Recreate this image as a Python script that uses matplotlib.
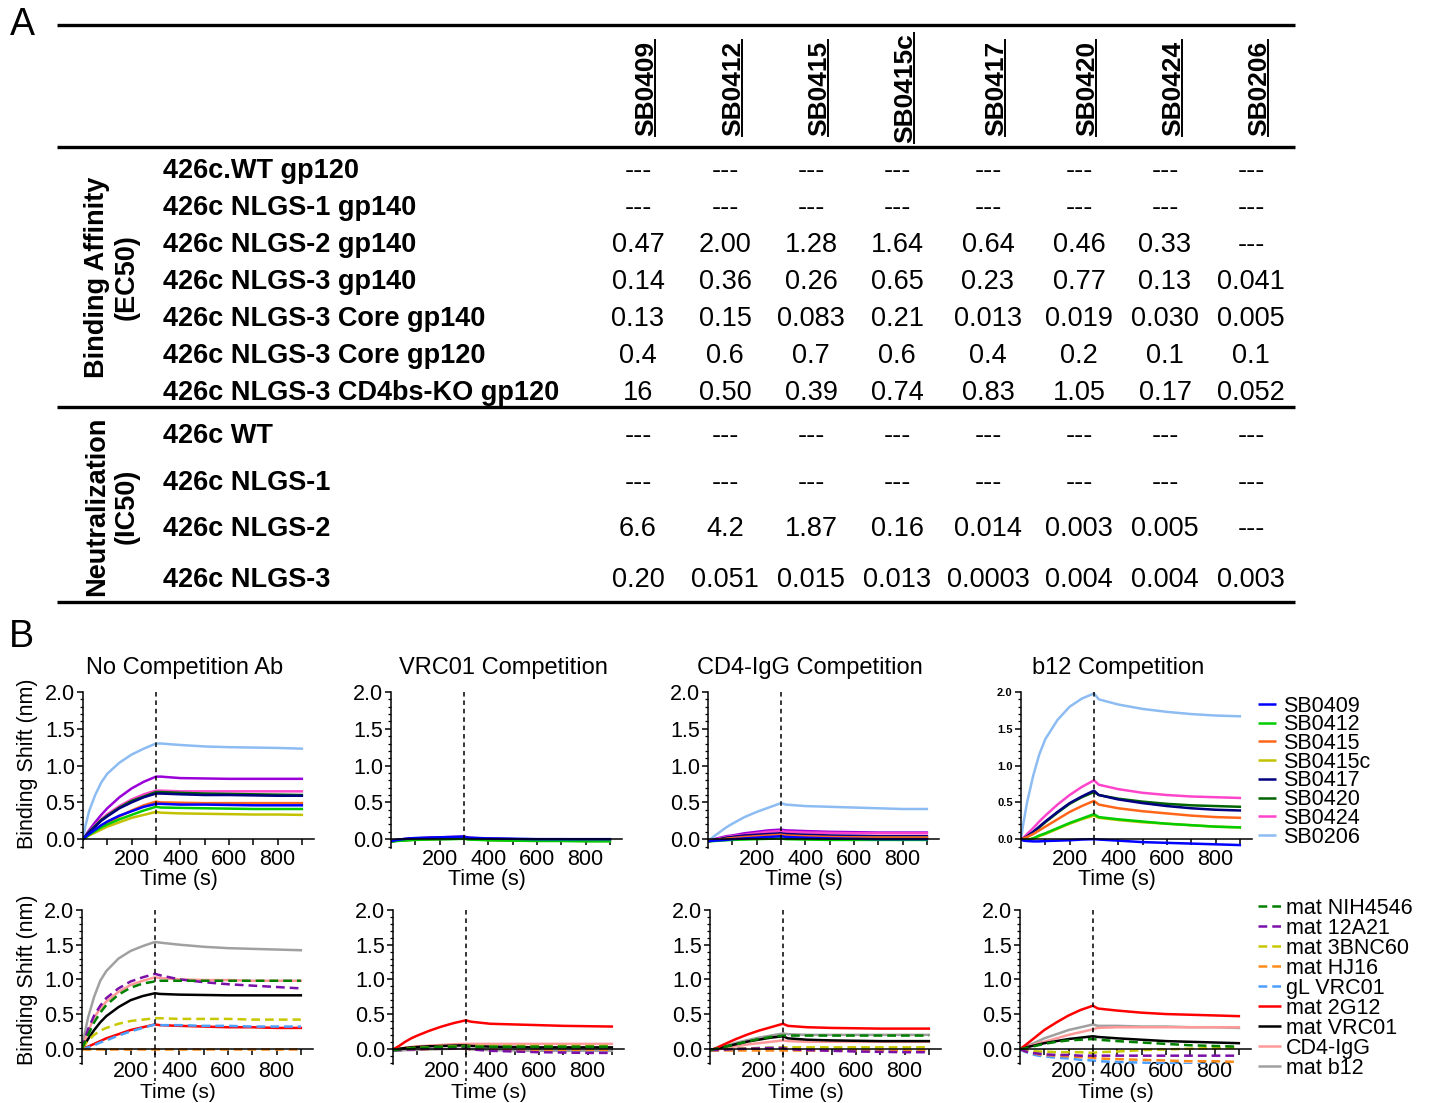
import matplotlib
matplotlib.use('Agg')
import matplotlib.pyplot as plt
from matplotlib.ticker import FixedLocator, MultipleLocator, FormatStrFormatter

plt.rcParams['font.family'] = 'Liberation Sans'

W, H = 1431, 1103

# ---------------- panel A: EC50 / IC50 table ----------------
mabs = ['SB0409', 'SB0412', 'SB0415', 'SB0415c', 'SB0417', 'SB0420', 'SB0424', 'SB0206']

binding_rows = ['426c.WT gp120', '426c NLGS-1 gp140', '426c NLGS-2 gp140', '426c NLGS-3 gp140',
                '426c NLGS-3 Core gp140', '426c NLGS-3 Core gp120', '426c NLGS-3 CD4bs-KO gp120']
binding_vals = [
    ['---', '---', '---', '---', '---', '---', '---', '---'],
    ['---', '---', '---', '---', '---', '---', '---', '---'],
    ['0.47', '2.00', '1.28', '1.64', '0.64', '0.46', '0.33', '---'],
    ['0.14', '0.36', '0.26', '0.65', '0.23', '0.77', '0.13', '0.041'],
    ['0.13', '0.15', '0.083', '0.21', '0.013', '0.019', '0.030', '0.005'],
    ['0.4', '0.6', '0.7', '0.6', '0.4', '0.2', '0.1', '0.1'],
    ['16', '0.50', '0.39', '0.74', '0.83', '1.05', '0.17', '0.052'],
]

neut_rows = ['426c WT', '426c NLGS-1', '426c NLGS-2', '426c NLGS-3']
neut_vals = [
    ['---', '---', '---', '---', '---', '---', '---', '---'],
    ['---', '---', '---', '---', '---', '---', '---', '---'],
    ['6.6', '4.2', '1.87', '0.16', '0.014', '0.003', '0.005', '---'],
    ['0.20', '0.051', '0.015', '0.013', '0.0003', '0.004', '0.004', '0.003'],
]

# ---------------- panel B: BLI sensorgrams ----------------
t = [0, 10, 25, 50, 75, 100, 150, 200, 250, 300, 320, 400, 500, 600, 700, 800, 900]

sb_colors = {'SB0409': '#0000ff', 'SB0412': '#00cc00', 'SB0415': '#ff6619', 'SB0415c': '#c2c200',
             'SB0417': '#000080', 'SB0420': '#006400', 'SB0424': '#ff44cc', 'SB0206': '#8cbcf2'}
extra_color = '#9b00d9'

sb_no_comp = {
    'SB0409': [0, 0.03, 0.07, 0.13, 0.19, 0.24, 0.32, 0.38, 0.44, 0.48, 0.48, 0.47, 0.47, 0.465, 0.46, 0.46, 0.46],
    'SB0412': [0, 0.02, 0.06, 0.11, 0.16, 0.20, 0.27, 0.33, 0.39, 0.44, 0.43, 0.425, 0.42, 0.415, 0.41, 0.41, 0.41],
    'SB0415': [0, 0.02, 0.06, 0.12, 0.17, 0.22, 0.31, 0.39, 0.46, 0.51, 0.50, 0.495, 0.49, 0.49, 0.49, 0.49, 0.49],
    'SB0415c': [0, 0.02, 0.05, 0.09, 0.13, 0.17, 0.23, 0.29, 0.33, 0.37, 0.36, 0.35, 0.345, 0.34, 0.335, 0.335, 0.33],
    'SB0417': [0, 0.04, 0.09, 0.17, 0.25, 0.31, 0.42, 0.50, 0.57, 0.62, 0.62, 0.61, 0.60, 0.60, 0.595, 0.59, 0.59],
    'SB0420': [0, 0.04, 0.10, 0.18, 0.26, 0.32, 0.43, 0.52, 0.58, 0.64, 0.64, 0.63, 0.62, 0.615, 0.61, 0.605, 0.60],
    'SB0424': [0, 0.04, 0.10, 0.19, 0.27, 0.34, 0.45, 0.54, 0.61, 0.66, 0.66, 0.65, 0.65, 0.65, 0.65, 0.65, 0.65],
    'SB0206': [0, 0.18, 0.38, 0.60, 0.77, 0.89, 1.04, 1.15, 1.23, 1.30, 1.30, 1.28, 1.26, 1.25, 1.245, 1.24, 1.23],
}
no_comp_extra = [0, 0.05, 0.12, 0.23, 0.33, 0.42, 0.57, 0.69, 0.78, 0.85, 0.85, 0.83, 0.825, 0.82, 0.82, 0.82, 0.82]

sb_vrc01_comp = {
    'SB0409': [-0.03, -0.02, -0.01, 0.0, 0.01, 0.015, 0.02, 0.025, 0.03, 0.035, 0.02, 0.01, 0.005, 0.0, 0.0, 0.0, 0.0],
    'SB0412': [-0.03, -0.03, -0.025, -0.02, -0.015, -0.01, -0.005, 0.0, 0.0, 0.005, -0.005, -0.015, -0.02, -0.025, -0.025, -0.03, -0.03],
    'SB0415': [-0.03, -0.02, -0.015, -0.01, -0.005, 0.0, 0.01, 0.015, 0.02, 0.025, 0.015, 0.0, -0.005, -0.01, -0.01, -0.01, -0.01],
    'SB0415c': [-0.03, -0.025, -0.02, -0.015, -0.01, -0.005, 0.0, 0.005, 0.01, 0.015, 0.005, -0.01, -0.015, -0.015, -0.02, -0.02, -0.02],
    'SB0417': [-0.03, -0.02, -0.01, 0.0, 0.005, 0.01, 0.015, 0.02, 0.025, 0.03, 0.015, 0.005, 0.0, -0.005, -0.005, -0.005, -0.005],
    'SB0420': [-0.03, -0.03, -0.02, -0.015, -0.01, -0.005, 0.0, 0.0, 0.005, 0.01, 0.0, -0.01, -0.015, -0.02, -0.02, -0.02, -0.02],
    'SB0424': [-0.03, -0.02, -0.01, 0.0, 0.005, 0.01, 0.02, 0.025, 0.03, 0.035, 0.02, 0.005, 0.0, -0.005, -0.005, -0.005, -0.005],
    'SB0206': [-0.03, -0.02, -0.01, 0.0, 0.01, 0.015, 0.02, 0.025, 0.03, 0.03, 0.02, 0.01, 0.005, 0.0, 0.0, -0.005, -0.005],
}

sb_cd4_comp = {
    'SB0409': [-0.03, -0.025, -0.02, -0.015, -0.01, 0.0, 0.01, 0.02, 0.03, 0.04, 0.03, 0.02, 0.01, 0.005, 0.0, 0.0, 0.0],
    'SB0412': [-0.03, -0.03, -0.025, -0.02, -0.015, -0.01, -0.005, 0.0, 0.005, 0.01, 0.0, -0.005, -0.01, -0.01, -0.01, -0.01, -0.01],
    'SB0415': [-0.03, -0.02, -0.015, -0.005, 0.005, 0.015, 0.03, 0.04, 0.05, 0.06, 0.05, 0.04, 0.03, 0.025, 0.02, 0.02, 0.02],
    'SB0415c': [-0.03, -0.02, -0.015, -0.005, 0.0, 0.01, 0.02, 0.03, 0.04, 0.05, 0.04, 0.03, 0.025, 0.02, 0.02, 0.02, 0.02],
    'SB0417': [-0.03, -0.02, -0.01, 0.0, 0.02, 0.03, 0.05, 0.06, 0.07, 0.08, 0.07, 0.06, 0.05, 0.045, 0.04, 0.04, 0.04],
    'SB0420': [-0.03, -0.02, -0.01, 0.0, 0.01, 0.02, 0.04, 0.05, 0.06, 0.07, 0.06, 0.05, 0.04, 0.035, 0.03, 0.03, 0.03],
    'SB0424': [-0.03, -0.02, -0.01, 0.01, 0.03, 0.04, 0.06, 0.08, 0.10, 0.11, 0.10, 0.09, 0.085, 0.08, 0.08, 0.08, 0.08],
    'SB0206': [-0.03, 0.0, 0.04, 0.10, 0.16, 0.21, 0.30, 0.37, 0.43, 0.49, 0.47, 0.45, 0.44, 0.43, 0.42, 0.41, 0.41],
}
cd4_comp_extra = [-0.03, -0.02, 0.0, 0.02, 0.04, 0.05, 0.08, 0.10, 0.12, 0.13, 0.12, 0.11, 0.10, 0.095, 0.09, 0.09, 0.09]

sb_b12_comp = {
    'SB0409': [0.0, -0.02, -0.025, -0.03, -0.03, -0.025, -0.02, -0.015, -0.005, 0.0, -0.005, -0.02, -0.04, -0.05, -0.06, -0.07, -0.08],
    'SB0412': [0.0, -0.01, -0.01, 0.01, 0.05, 0.08, 0.15, 0.22, 0.28, 0.34, 0.30, 0.27, 0.24, 0.21, 0.19, 0.17, 0.16],
    'SB0415': [0.0, 0.01, 0.03, 0.07, 0.12, 0.17, 0.27, 0.37, 0.45, 0.52, 0.47, 0.42, 0.38, 0.35, 0.32, 0.30, 0.29],
    'SB0415c': [0.0, -0.01, -0.01, 0.01, 0.04, 0.07, 0.14, 0.21, 0.27, 0.32, 0.29, 0.26, 0.23, 0.21, 0.19, 0.17, 0.16],
    'SB0417': [0.0, 0.01, 0.04, 0.10, 0.17, 0.24, 0.37, 0.49, 0.58, 0.66, 0.60, 0.54, 0.49, 0.45, 0.42, 0.40, 0.39],
    'SB0420': [0.0, 0.01, 0.03, 0.09, 0.16, 0.23, 0.36, 0.48, 0.57, 0.64, 0.60, 0.55, 0.51, 0.48, 0.46, 0.45, 0.44],
    'SB0424': [0.0, 0.02, 0.07, 0.15, 0.24, 0.32, 0.47, 0.60, 0.71, 0.80, 0.74, 0.68, 0.63, 0.60, 0.58, 0.57, 0.56],
    'SB0206': [0.0, 0.22, 0.50, 0.86, 1.15, 1.36, 1.62, 1.80, 1.91, 1.98, 1.90, 1.83, 1.77, 1.73, 1.70, 1.68, 1.67],
}

ref_names = ['mat NIH4546', 'mat 12A21', 'mat 3BNC60', 'mat HJ16', 'gL VRC01',
             'mat 2G12', 'mat VRC01', 'CD4-IgG', 'mat b12']
ref_colors = ['#008000', '#7a10a8', '#c8c800', '#ff8c1a', '#4d9fff',
              '#ff0000', '#000000', '#ff9999', '#a0a0a0']
ref_dashed = [True, True, True, True, True, False, False, False, False]

ref_no_comp = {
    'mat NIH4546': [0, 0.08, 0.20, 0.38, 0.52, 0.63, 0.78, 0.88, 0.94, 0.97, 0.98, 0.98, 0.98, 0.98, 0.98, 0.98, 0.98],
    'mat 12A21': [0, 0.12, 0.28, 0.48, 0.62, 0.73, 0.87, 0.97, 1.03, 1.08, 1.06, 1.00, 0.96, 0.93, 0.91, 0.89, 0.87],
    'mat 3BNC60': [0, 0.05, 0.12, 0.20, 0.26, 0.30, 0.36, 0.40, 0.42, 0.44, 0.44, 0.43, 0.43, 0.43, 0.42, 0.42, 0.42],
    'mat HJ16': [-0.01, -0.01, -0.01, -0.01, -0.01, -0.01, -0.01, -0.01, -0.01, -0.01, -0.01, -0.01, -0.01, -0.01, -0.01, -0.01, -0.01],
    'gL VRC01': [0, 0.0, 0.02, 0.05, 0.09, 0.12, 0.19, 0.25, 0.30, 0.35, 0.34, 0.34, 0.33, 0.33, 0.32, 0.32, 0.32],
    'mat 2G12': [0, 0.01, 0.03, 0.07, 0.11, 0.15, 0.21, 0.27, 0.31, 0.35, 0.34, 0.33, 0.32, 0.31, 0.31, 0.30, 0.30],
    'mat VRC01': [0, 0.05, 0.14, 0.27, 0.38, 0.47, 0.60, 0.70, 0.76, 0.80, 0.79, 0.78, 0.775, 0.77, 0.77, 0.77, 0.77],
    'CD4-IgG': [0, 0.10, 0.25, 0.45, 0.58, 0.68, 0.82, 0.92, 0.98, 1.03, 1.02, 1.00, 0.99, 0.99, 0.98, 0.98, 0.98],
    'mat b12': [0, 0.20, 0.45, 0.75, 0.98, 1.12, 1.30, 1.41, 1.48, 1.54, 1.53, 1.50, 1.47, 1.45, 1.44, 1.43, 1.42],
}

ref_vrc01_comp = {
    'mat NIH4546': [-0.02, -0.02, -0.01, 0.0, 0.005, 0.01, 0.02, 0.025, 0.03, 0.035, 0.03, 0.03, 0.03, 0.03, 0.03, 0.03, 0.03],
    'mat 12A21': [-0.02, -0.02, -0.02, -0.015, -0.01, -0.01, 0.0, 0.0, 0.005, 0.01, -0.01, -0.03, -0.04, -0.05, -0.055, -0.06, -0.06],
    'mat 3BNC60': [-0.02, -0.015, -0.01, 0.0, 0.01, 0.015, 0.02, 0.03, 0.035, 0.04, 0.04, 0.04, 0.04, 0.04, 0.04, 0.04, 0.04],
    'mat HJ16': [-0.02, -0.02, -0.02, -0.015, -0.01, -0.01, -0.005, 0.0, 0.0, 0.0, -0.01, -0.015, -0.02, -0.02, -0.02, -0.02, -0.02],
    'gL VRC01': [-0.03, -0.025, -0.02, -0.015, -0.01, -0.005, 0.0, 0.005, 0.005, 0.01, -0.005, -0.02, -0.025, -0.03, -0.03, -0.03, -0.03],
    'mat 2G12': [-0.01, 0.01, 0.04, 0.10, 0.15, 0.19, 0.26, 0.32, 0.37, 0.41, 0.39, 0.36, 0.35, 0.34, 0.33, 0.325, 0.32],
    'mat VRC01': [-0.02, -0.01, 0.0, 0.01, 0.02, 0.025, 0.035, 0.04, 0.045, 0.05, 0.04, 0.03, 0.025, 0.02, 0.02, 0.02, 0.02],
    'CD4-IgG': [-0.02, -0.01, 0.0, 0.015, 0.025, 0.035, 0.045, 0.055, 0.065, 0.07, 0.07, 0.07, 0.07, 0.07, 0.07, 0.07, 0.07],
    'mat b12': [-0.03, -0.03, -0.025, -0.02, -0.02, -0.015, -0.01, -0.005, 0.0, 0.0, -0.01, -0.02, -0.025, -0.03, -0.03, -0.03, -0.03],
}

ref_cd4_comp = {
    'mat NIH4546': [-0.02, -0.01, 0.0, 0.02, 0.04, 0.06, 0.10, 0.14, 0.17, 0.19, 0.19, 0.19, 0.19, 0.19, 0.19, 0.19, 0.19],
    'mat 12A21': [-0.02, -0.02, -0.02, -0.015, -0.01, -0.005, 0.0, 0.005, 0.01, 0.01, -0.005, -0.02, -0.03, -0.04, -0.045, -0.05, -0.05],
    'mat 3BNC60': [-0.02, -0.02, -0.015, -0.01, -0.005, 0.0, 0.005, 0.01, 0.015, 0.02, 0.02, 0.02, 0.02, 0.02, 0.02, 0.02, 0.02],
    'mat HJ16': [-0.02, -0.02, -0.02, -0.02, -0.02, -0.02, -0.02, -0.02, -0.02, -0.02, -0.02, -0.02, -0.02, -0.02, -0.02, -0.02, -0.02],
    'gL VRC01': [-0.03, -0.02, -0.015, -0.01, -0.005, 0.0, 0.005, 0.01, 0.015, 0.015, 0.0, -0.01, -0.02, -0.03, -0.035, -0.04, -0.04],
    'mat 2G12': [-0.02, -0.01, 0.01, 0.05, 0.09, 0.13, 0.20, 0.26, 0.31, 0.36, 0.33, 0.31, 0.30, 0.295, 0.29, 0.29, 0.29],
    'mat VRC01': [-0.02, -0.01, 0.0, 0.02, 0.04, 0.06, 0.10, 0.13, 0.16, 0.18, 0.15, 0.13, 0.12, 0.115, 0.11, 0.11, 0.11],
    'CD4-IgG': [-0.02, -0.015, -0.01, 0.0, 0.02, 0.03, 0.06, 0.08, 0.10, 0.12, 0.11, 0.10, 0.10, 0.10, 0.10, 0.10, 0.10],
    'mat b12': [-0.02, -0.01, 0.0, 0.03, 0.05, 0.08, 0.12, 0.16, 0.19, 0.22, 0.21, 0.20, 0.20, 0.20, 0.20, 0.20, 0.20],
}

ref_b12_comp = {
    'mat NIH4546': [0.0, 0.0, 0.01, 0.03, 0.05, 0.07, 0.10, 0.12, 0.13, 0.14, 0.13, 0.11, 0.09, 0.07, 0.05, 0.04, 0.03],
    'mat 12A21': [0.0, -0.02, -0.04, -0.06, -0.07, -0.08, -0.09, -0.09, -0.10, -0.10, -0.10, -0.10, -0.10, -0.10, -0.10, -0.10, -0.10],
    'mat 3BNC60': [0.0, -0.01, -0.02, -0.03, -0.04, -0.04, -0.05, -0.05, -0.05, -0.06, -0.05, -0.04, -0.02, -0.01, 0.0, 0.01, 0.02],
    'mat HJ16': [0.0, -0.02, -0.04, -0.06, -0.08, -0.09, -0.10, -0.11, -0.12, -0.13, -0.14, -0.15, -0.16, -0.17, -0.18, -0.18, -0.19],
    'gL VRC01': [-0.01, -0.03, -0.05, -0.08, -0.10, -0.11, -0.13, -0.14, -0.16, -0.17, -0.18, -0.19, -0.20, -0.21, -0.22, -0.23, -0.24],
    'mat 2G12': [0.0, 0.02, 0.06, 0.13, 0.20, 0.27, 0.38, 0.48, 0.56, 0.62, 0.58, 0.55, 0.52, 0.50, 0.49, 0.48, 0.47],
    'mat VRC01': [0.0, 0.01, 0.02, 0.04, 0.06, 0.08, 0.11, 0.14, 0.16, 0.18, 0.17, 0.15, 0.13, 0.11, 0.10, 0.09, 0.08],
    'CD4-IgG': [0.0, 0.01, 0.02, 0.05, 0.08, 0.10, 0.15, 0.20, 0.24, 0.28, 0.30, 0.31, 0.31, 0.31, 0.31, 0.31, 0.31],
    'mat b12': [0.0, 0.01, 0.03, 0.07, 0.11, 0.15, 0.21, 0.27, 0.31, 0.35, 0.33, 0.33, 0.32, 0.32, 0.31, 0.31, 0.30],
}

titles = ['No Competition Ab', 'VRC01 Competition', 'CD4-IgG Competition', 'b12 Competition']
top_data = [sb_no_comp, sb_vrc01_comp, sb_cd4_comp, sb_b12_comp]
top_extra = [no_comp_extra, None, cd4_comp_extra, None]
bottom_data = [ref_no_comp, ref_vrc01_comp, ref_cd4_comp, ref_b12_comp]

# ---------------- figure ----------------
fig = plt.figure(figsize=(W / 100, H / 100), dpi=100)

# full-figure pixel canvas for the table, labels and legends
bg = fig.add_axes([0, 0, 1, 1])
bg.set_xlim(0, W)
bg.set_ylim(H, 0)
bg.axis('off')

bg.text(22, 35, 'A', fontsize=27, ha='center', va='baseline')
bg.text(21, 647, 'B', fontsize=27, ha='center', va='baseline')

for y in [25, 147, 407, 602]:
    bg.plot([57, 1295], [y, y], color='k', lw=2.4, solid_capstyle='butt')

col_x = [638, 725, 811, 897, 988, 1079, 1165, 1251]
headers = []
for x, name in zip(col_x, mabs):
    ht = bg.text(x + 15, 88, name, rotation=90, rotation_mode='anchor', ha='center',
                 va='baseline', fontsize=19, fontweight='bold')
    headers.append((x + 15, ht))

bind_base = [178, 215, 252, 289, 326, 363, 400]
for yb, label, vals in zip(bind_base, binding_rows, binding_vals):
    bg.text(163, yb, label, fontsize=19.5, fontweight='bold', ha='left', va='baseline')
    for x, v in zip(col_x, vals):
        bg.text(x, yb, v, fontsize=19.5, ha='center', va='baseline')

neut_base = [443, 490, 536, 587]
for yb, label, vals in zip(neut_base, neut_rows, neut_vals):
    bg.text(163, yb, label, fontsize=19.5, fontweight='bold', ha='left', va='baseline')
    for x, v in zip(col_x, vals):
        bg.text(x, yb, v, fontsize=19.5, ha='center', va='baseline')

bg.text(112, 277, 'Binding Affinity\n(EC50)', rotation=90, ha='center', va='center',
        multialignment='center', fontsize=19.5, fontweight='bold', linespacing=1.15)
bg.text(112, 506, 'Neutralization\n(IC50)', rotation=90, ha='center', va='center',
        multialignment='center', fontsize=19.5, fontweight='bold', linespacing=1.15)


def px_axes(left, top, width, height):
    return fig.add_axes([left / W, 1 - (top + height) / H, width / W, height / H])


def style_axes(ax, ylow, xpad, small_bold=False):
    ax.set_xlim(0, 950)
    ax.set_ylim(ylow, 2.0)
    ax.patch.set_alpha(0)
    for s in ['top', 'right']:
        ax.spines[s].set_visible(False)
    ax.spines['bottom'].set_position(('data', 0))
    ax.spines['left'].set_linewidth(1.1)
    ax.spines['bottom'].set_linewidth(1.1)
    ax.xaxis.set_major_locator(FixedLocator([200, 400, 600, 800]))
    ax.xaxis.set_minor_locator(FixedLocator([100, 300, 500, 700, 900]))
    ax.yaxis.set_major_locator(MultipleLocator(0.5))
    ax.yaxis.set_minor_locator(MultipleLocator(0.1))
    ax.yaxis.set_major_formatter(FormatStrFormatter('%.1f'))
    ax.tick_params(which='major', length=4, width=1.1, labelsize=15.5, direction='out')
    ax.tick_params(axis='y', which='minor', length=2.2, width=0.9)
    ax.tick_params(axis='x', which='minor', length=4, width=1.1)
    ax.tick_params(axis='x', pad=xpad)
    ax.tick_params(axis='y', pad=1.5)
    if small_bold:
        ax.set_yticks([0.0, 0.5, 1.0, 1.5, 2.0], labels=['0.0', '0.5', '1.0', '1.5', '2.0'],
                      fontsize=8, fontweight='bold')
        ax.tick_params(axis='y', pad=2)


top_lefts = [83, 391, 708, 1021]
bot_lefts = [82, 393, 710, 1020]
title_x = [185, 503, 810, 1118]
lw = 1.8

for i in range(4):
    ax = px_axes(top_lefts[i], 692, 231, 156)
    style_axes(ax, -0.12, 3, small_bold=(i == 3))
    if top_extra[i] is not None:
        ax.plot(t, top_extra[i], color=extra_color, lw=lw)
    for name in reversed(mabs):
        ax.plot(t, top_data[i][name], color=sb_colors[name], lw=lw)
    ax.plot([300, 300], [2.0, 0.0], color='k', lw=1.1, ls=(0, (3, 2.5)), clip_on=False)
    ax.text(0.415, -0.2, 'Time (s)', transform=ax.transAxes, ha='center', va='center', fontsize=15.5)
    bg.text(title_x[i], 674, titles[i], ha='center', va='baseline', fontsize=17)

    ax = px_axes(bot_lefts[i], 910, 231, 154)
    style_axes(ax, -0.22, 5)
    for k in reversed(range(len(ref_names))):
        name = ref_names[k]
        ls = (0, (3.5, 2)) if ref_dashed[k] else '-'
        ax.plot(t, bottom_data[i][name], color=ref_colors[k], lw=lw, ls=ls)
    ax.plot([300, 300], [2.0, -0.47], color='k', lw=1.1, ls=(0, (3, 2.5)), clip_on=False)
    ax.text(0.415, -0.185, 'Time (s)', transform=ax.transAxes, ha='center', va='center', fontsize=15)

bg.text(28, 764, 'Binding Shift (nm)', rotation=90, ha='center', va='center', fontsize=15.5)
bg.text(28, 980, 'Binding Shift (nm)', rotation=90, ha='center', va='center', fontsize=15.5)

# legends
for j, name in enumerate(mabs):
    y = 704 + 18.7 * j
    bg.plot([1258, 1276], [y, y], color=sb_colors[name], lw=lw, solid_capstyle='butt')
    bg.text(1283, y + 7.7, name, fontsize=15.5, va='baseline')

for j, name in enumerate(ref_names):
    y = 906 + 20 * j
    ls = (0, (3.5, 2)) if ref_dashed[j] else '-'
    bg.plot([1258, 1281], [y, y], color=ref_colors[j], lw=lw, ls=ls, solid_capstyle='butt')
    bg.text(1286, y + 7.7, name, fontsize=15.5, va='baseline')

# underline the rotated column headers
fig.canvas.draw()
renderer = fig.canvas.get_renderer()
for x, ht in headers:
    bb = ht.get_window_extent(renderer)
    bg.plot([x + 2, x + 2], [H - bb.y0, H - bb.y1], color='k', lw=1.4)

fig.savefig('out.png', dpi=100)
